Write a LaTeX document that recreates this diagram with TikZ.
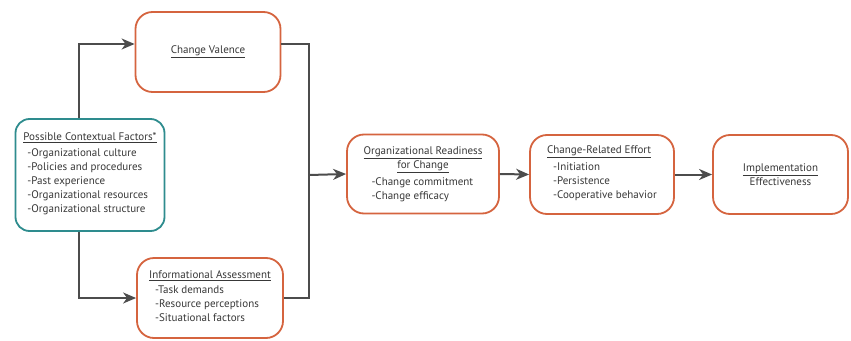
\documentclass[tikz,border=0pt]{standalone}
\usepackage{fontspec}
\setmainfont{PT Sans}
\usetikzlibrary{arrows.meta}
\definecolor{boxred}{HTML}{D5643F}
\definecolor{boxteal}{HTML}{2E8C8E}
\definecolor{linegray}{HTML}{4C4C4C}
\definecolor{txt}{HTML}{383838}
\tikzset{
  stage/.style={draw=boxred, line width=1.8pt, rounded corners=17pt, fill=white,
    text=txt, font=\fontsize{11}{14}\selectfont, align=left, inner sep=0pt},
  context/.style={stage, draw=boxteal, rounded corners=14pt},
  flow/.style={draw=linegray, line width=2pt},
  arr/.style={flow, -{Stealth[length=13pt,width=11pt,inset=4pt]}},
}
\newcommand{\hd}[1]{\underline{#1}}
\begin{document}
\begin{tikzpicture}[x=1pt,y=-1pt]
\useasboundingbox (0,0) rectangle (851,340);

% stages
\node[context, minimum width=149pt, minimum height=112pt] (ctx) at (90,175)
  {\hd{Possible Contextual Factors*}\\[3pt]
   \hspace*{4pt}\begin{tabular}{@{}l@{}}-Organizational culture\\-Policies and procedures\\-Past experience\\-Organizational resources\\-Organizational structure\end{tabular}};
\node[stage, minimum width=145pt, minimum height=80pt] (val) at (208,52)
  {\hd{Change Valence}};
\node[stage, minimum width=146pt, minimum height=80pt] (info) at (210,298)
  {\hd{Informational Assessment}\\[2pt]
   \hspace*{6pt}\begin{tabular}{@{}l@{}}-Task demands\\-Resource perceptions\\-Situational factors\end{tabular}};
\node[stage, minimum width=152pt, minimum height=79pt] (ready) at (423,174)
  {\begin{tabular}{@{}c@{}}\hd{Organizational Readiness}\\\hd{for Change}\end{tabular}\\[2pt]
   \hspace*{8pt}\begin{tabular}{@{}l@{}}-Change commitment\\-Change efficacy\end{tabular}};
\node[stage, minimum width=144pt, minimum height=79pt] (effort) at (602,174.5)
  {\hd{Change-Related Effort}\\[2pt]
   \hspace*{6pt}\begin{tabular}{@{}l@{}}-Initiation\\-Persistence\\-Cooperative behavior\end{tabular}};
\node[stage, minimum width=135pt, minimum height=79pt, align=center] (impl) at (780.5,174.5)
  {\hd{Implementation}\\Effectiveness};

% connectors
\coordinate (split) at (79,175);
\coordinate (join) at (309,175);
\draw[arr] (ctx.north -| split) |- ([yshift=8pt]val.west);
\draw[arr] (ctx.south -| split) |- (info.west);
\draw[flow] ([yshift=8pt]val.east) -| (join) |- (info.east);
\draw[arr] (join) -- (ready.west);
\draw[arr] (ready.east) -- (effort.west);
\draw[arr] (effort.east) -- (impl.west);
\end{tikzpicture}
\end{document}
